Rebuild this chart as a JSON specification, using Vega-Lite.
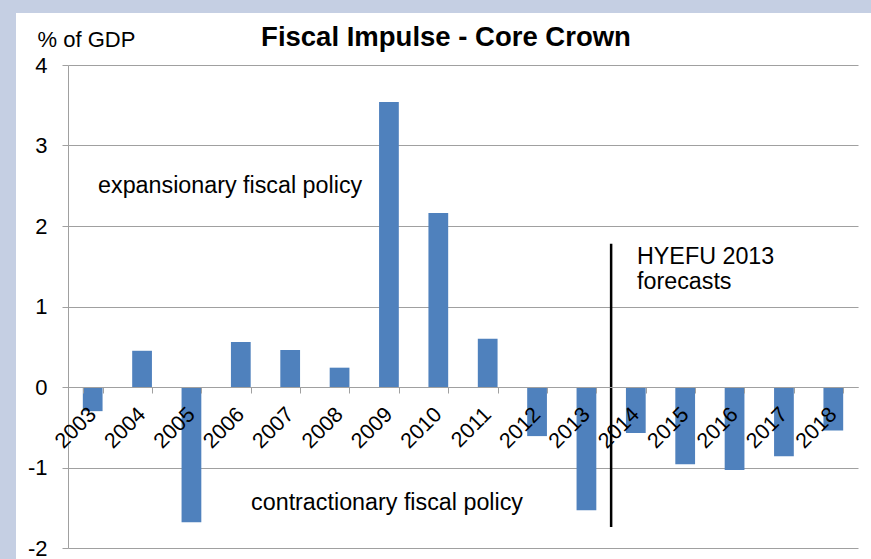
{
  "$schema": "https://vega.github.io/schema/vega-lite/v6.json",
  "width": 790,
  "height": 483,
  "autosize": {"type": "none"},
  "padding": {"left": 68, "top": 65, "right": 13, "bottom": 11},
  "background": "#c5cfe3",
  "config": {
    "font": "Liberation Sans",
    "view": {"fill": "white", "stroke": "white", "strokeWidth": 104}
  },
  "title": {
    "text": "Fiscal Impulse - Core Crown",
    "fontSize": 27.5,
    "fontWeight": "bold",
    "color": "black",
    "anchor": "middle",
    "frame": "group",
    "baseline": "alphabetic",
    "dx": -17,
    "offset": -45
  },
  "datasets": {
    "bars": [
      {"year": "2003", "value": -0.3},
      {"year": "2004", "value": 0.45},
      {"year": "2005", "value": -1.68},
      {"year": "2006", "value": 0.56},
      {"year": "2007", "value": 0.46},
      {"year": "2008", "value": 0.24},
      {"year": "2009", "value": 3.54},
      {"year": "2010", "value": 2.16},
      {"year": "2011", "value": 0.6},
      {"year": "2012", "value": -0.61},
      {"year": "2013", "value": -1.53},
      {"year": "2014", "value": -0.57},
      {"year": "2015", "value": -0.96},
      {"year": "2016", "value": -1.03},
      {"year": "2017", "value": -0.86},
      {"year": "2018", "value": -0.54}
    ],
    "divider": [{"year": "2014", "value": 1.78, "value2": -1.74}],
    "expansion": [{"year": "2003", "value": 2.5, "label": "expansionary fiscal policy"}],
    "contraction": [{"year": "2006", "value": -1.44, "label": "contractionary fiscal policy"}],
    "forecast": [
      {"year": "2014", "value": 1.61, "label": "HYEFU 2013"},
      {"year": "2014", "value": 1.3, "label": "forecasts"}
    ]
  },
  "layer": [
    {
      "data": {"name": "bars"},
      "mark": {"type": "bar", "color": "#4f81bd"},
      "encoding": {
        "x": {
          "field": "year",
          "type": "nominal",
          "scale": {"paddingInner": 0.6, "paddingOuter": 0.3},
          "axis": {
            "title": null,
            "offset": -161,
            "zindex": 1,
            "labelAngle": -45,
            "labelAlign": "right",
            "labelBaseline": "middle",
            "labelFontSize": 21.5,
            "labelColor": "black",
            "labelPadding": 18,
            "tickBand": "extent",
            "tickSize": 6,
            "tickColor": "#a0a0a0",
            "domainColor": "#a0a0a0",
            "grid": false
          }
        },
        "y": {
          "field": "value",
          "type": "quantitative",
          "scale": {"domain": [-2, 4], "nice": false},
          "axis": {
            "title": "% of GDP",
            "titleAngle": 0,
            "titleAlign": "left",
            "titleBaseline": "alphabetic",
            "titleX": -31,
            "titleY": -19,
            "titleFontSize": 22,
            "titleFontWeight": "normal",
            "titleColor": "black",
            "values": [-2, -1, 0, 1, 2, 3, 4],
            "labelExpr": "'' + datum.value",
            "labelFontSize": 22,
            "labelColor": "black",
            "labelPadding": 15,
            "tickSize": 6,
            "tickColor": "#a0a0a0",
            "domainColor": "#a0a0a0",
            "gridColor": "#a0a0a0",
            "grid": true
          }
        }
      }
    },
    {
      "data": {"name": "divider"},
      "mark": {"type": "rule", "color": "black", "strokeWidth": 2.5},
      "encoding": {
        "x": {"field": "year", "type": "nominal", "bandPosition": -0.75},
        "y": {"field": "value", "type": "quantitative"},
        "y2": {"field": "value2"}
      }
    },
    {
      "data": {"name": "expansion"},
      "mark": {"type": "text", "align": "left", "baseline": "middle", "fontSize": 23.3, "color": "black"},
      "encoding": {
        "x": {"field": "year", "type": "nominal", "bandPosition": 0.77},
        "y": {"field": "value", "type": "quantitative"},
        "text": {"field": "label"}
      }
    },
    {
      "data": {"name": "contraction"},
      "mark": {"type": "text", "align": "left", "baseline": "middle", "fontSize": 23.3, "color": "black"},
      "encoding": {
        "x": {"field": "year", "type": "nominal", "bandPosition": 1.02},
        "y": {"field": "value", "type": "quantitative"},
        "text": {"field": "label"}
      }
    },
    {
      "data": {"name": "forecast"},
      "mark": {"type": "text", "align": "left", "baseline": "middle", "fontSize": 23.3, "color": "black"},
      "encoding": {
        "x": {"field": "year", "type": "nominal", "bandPosition": 0.56},
        "y": {"field": "value", "type": "quantitative"},
        "text": {"field": "label"}
      }
    }
  ]
}
